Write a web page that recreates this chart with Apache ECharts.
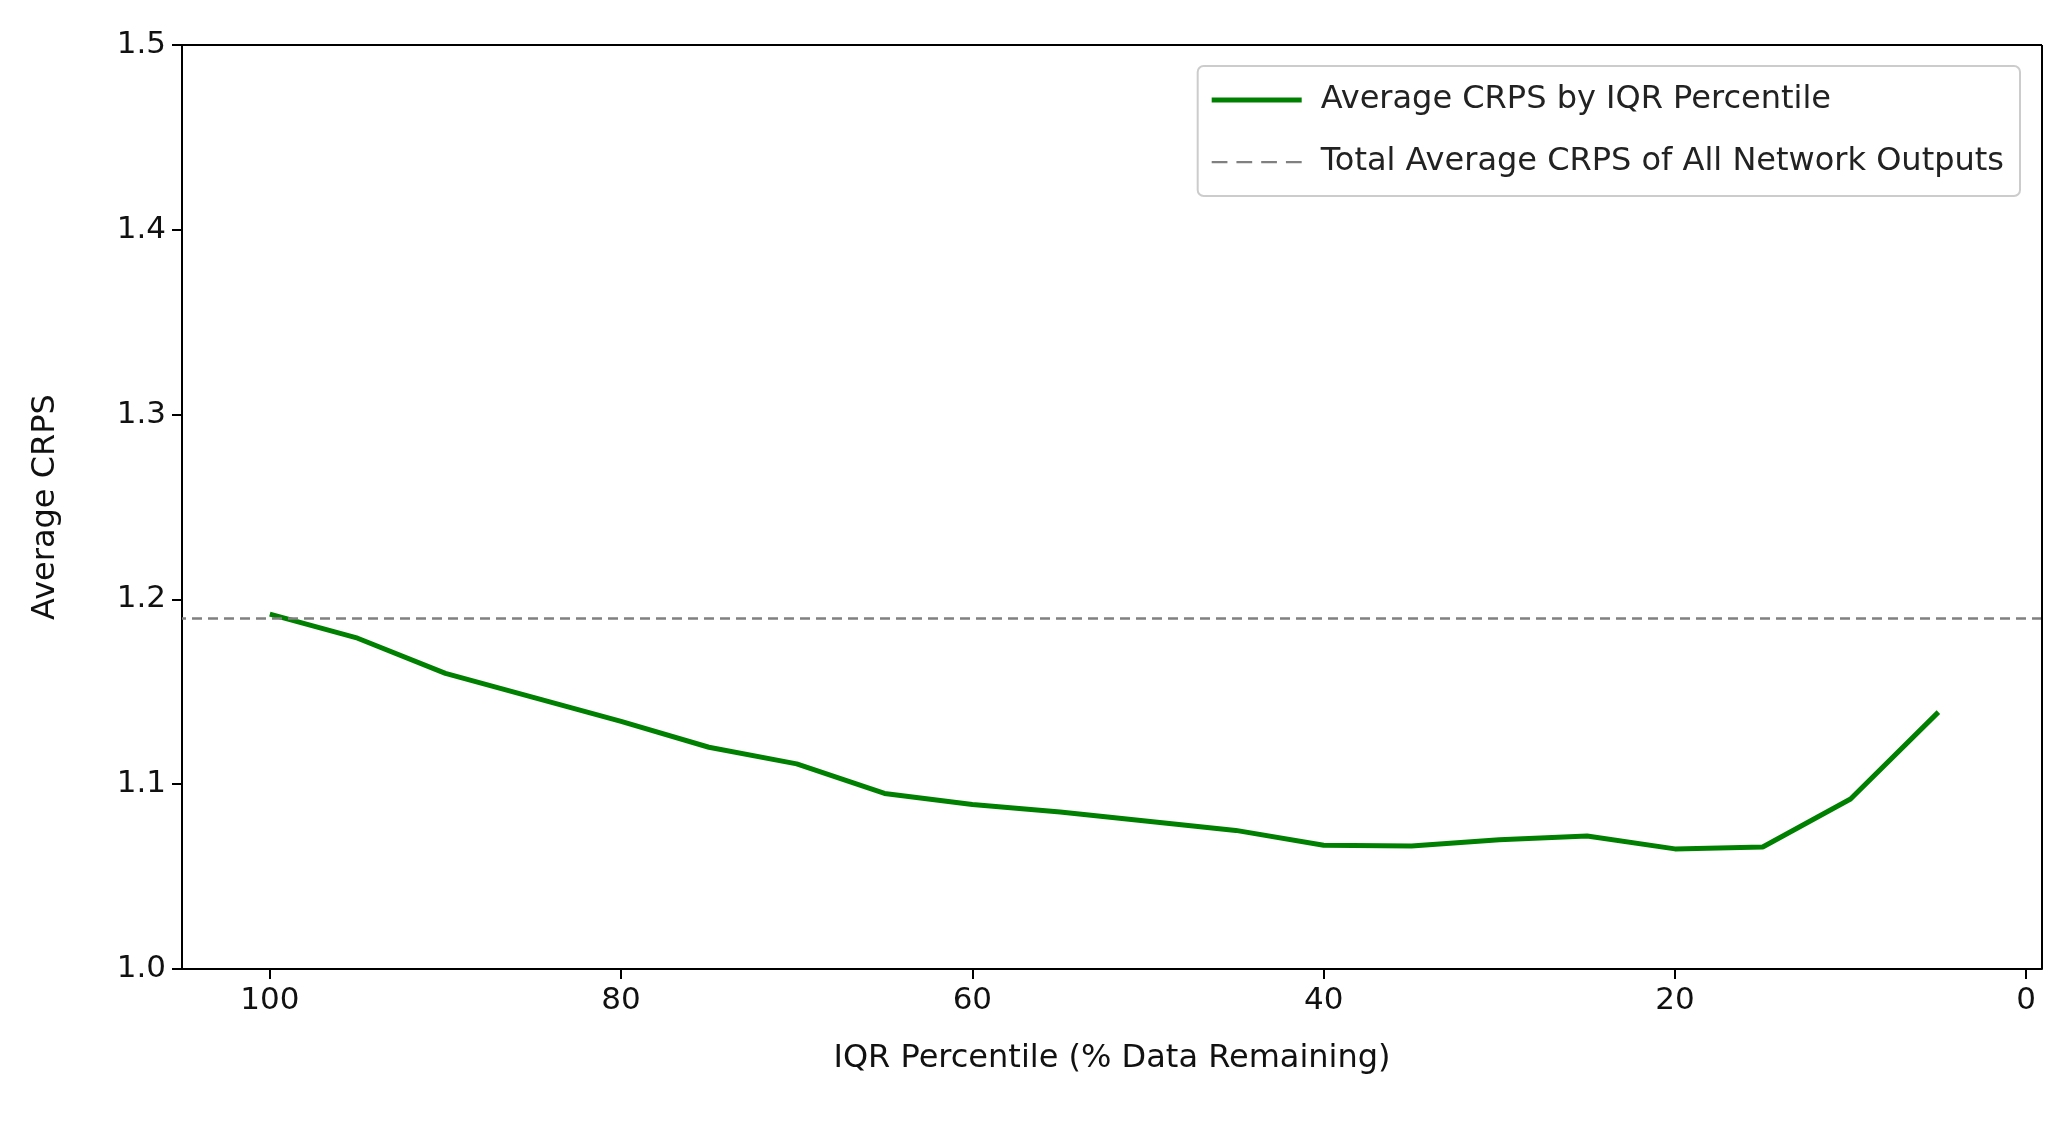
<!DOCTYPE html>
<html>
<head>
<meta charset="utf-8">
<script src="https://cdn.jsdelivr.net/npm/echarts@6/dist/echarts.min.js"></script>
<style>html,body{margin:0;padding:0;background:#fff}#chart{width:2072px;height:1125px}</style>
</head>
<body>
<div id="chart"></div>
<script>
	// Data
	const percentiles = [100, 95, 90, 85, 80, 75, 70, 65, 60, 55, 50, 45, 40, 35, 30, 25, 20, 15, 10, 5];
	const crps = [1.192, 1.179, 1.160, 1.147, 1.134, 1.120, 1.111, 1.095, 1.089, 1.085, 1.080, 1.075, 1.067, 1.0665, 1.070, 1.072, 1.065, 1.066, 1.092, 1.139];
	const totalAverage = 1.1925;
	const xTicks = [0, 20, 40, 60, 80, 100];

	const font = 'DejaVu Sans';
	const chart = echarts.init(document.getElementById('chart'));
	chart.setOption({
		animation: false,
		textStyle: { fontFamily: font },
		grid: { left: 182, right: 30, top: 45, bottom: 156 },
		legend: {
			right: 52, top: 66,
			orient: 'vertical',
			itemGap: 30, itemWidth: 90, itemHeight: 14,
			padding: [18, 16, 18, 14],
			borderColor: '#cccccc', borderWidth: 2, borderRadius: 6,
			backgroundColor: 'rgba(255,255,255,0.8)',
			textStyle: { fontSize: 32, color: '#222', fontFamily: font, padding: [0, 0, 0, 14] },
			data: [
				{ name: 'Average CRPS by IQR Percentile', icon: 'path://M0,0L90,0L90,5L0,5Z' },
				{ name: 'Total Average CRPS of All Network Outputs', icon: 'path://M0,0L14,0L14,2L0,2ZM22,0L36,0L36,2L22,2ZM44,0L58,0L58,2L44,2ZM66,0L80,0L80,2L66,2Z' },
			],
		},
		xAxis: {
			type: 'value', inverse: true, min: -0.9, max: 105,
			name: 'IQR Percentile (% Data Remaining)', nameLocation: 'middle', nameGap: 74,
			nameTextStyle: { fontSize: 32, color: '#111' },
			axisLine: { onZero: false, lineStyle: { color: '#000', width: 2 } },
			axisTick: { show: true, length: 10, lineStyle: { color: '#000', width: 2 }, customValues: xTicks },
			axisLabel: { fontSize: 31, color: '#111', margin: 16, customValues: xTicks },
			splitLine: { show: false },
		},
		yAxis: {
			type: 'value', min: 1.0, max: 1.5, interval: 0.1,
			name: 'Average CRPS', nameLocation: 'middle', nameGap: 120,
			nameTextStyle: { fontSize: 32, color: '#111' },
			axisLine: { show: true, onZero: false, lineStyle: { color: '#000', width: 2 } },
			axisTick: { show: true, length: 10, lineStyle: { color: '#000', width: 2 } },
			axisLabel: { fontSize: 31, color: '#111', margin: 16, formatter: v => v.toFixed(1) },
			splitLine: { show: false },
		},
		series: [
			{
				name: 'Average CRPS by IQR Percentile',
				type: 'line', symbol: 'none',
				data: percentiles.map((p, i) => [p, crps[i]]),
				lineStyle: { color: '#008000', width: 5 },
				itemStyle: { color: '#008000' },
				z: 3,
			},
			{
				name: 'Total Average CRPS of All Network Outputs',
				type: 'line', symbol: 'none', data: [],
				itemStyle: { color: '#808080' },
				lineStyle: { color: '#808080', width: 2, type: 'dashed' },
				markLine: {
					silent: true, symbol: 'none', label: { show: false },
					lineStyle: { color: '#808080', width: 2.5, type: [10, 6] },
					data: [{ yAxis: totalAverage }],
				},
			},
			{
				type: 'line', data: [], silent: true,
				markLine: {
					silent: true, symbol: 'none', label: { show: false },
					lineStyle: { color: '#000', width: 2, type: 'solid' },
					data: [{ yAxis: 1.5 }, { xAxis: -0.9 }],
				},
			},
		],
	});
</script>
</body>
</html>
